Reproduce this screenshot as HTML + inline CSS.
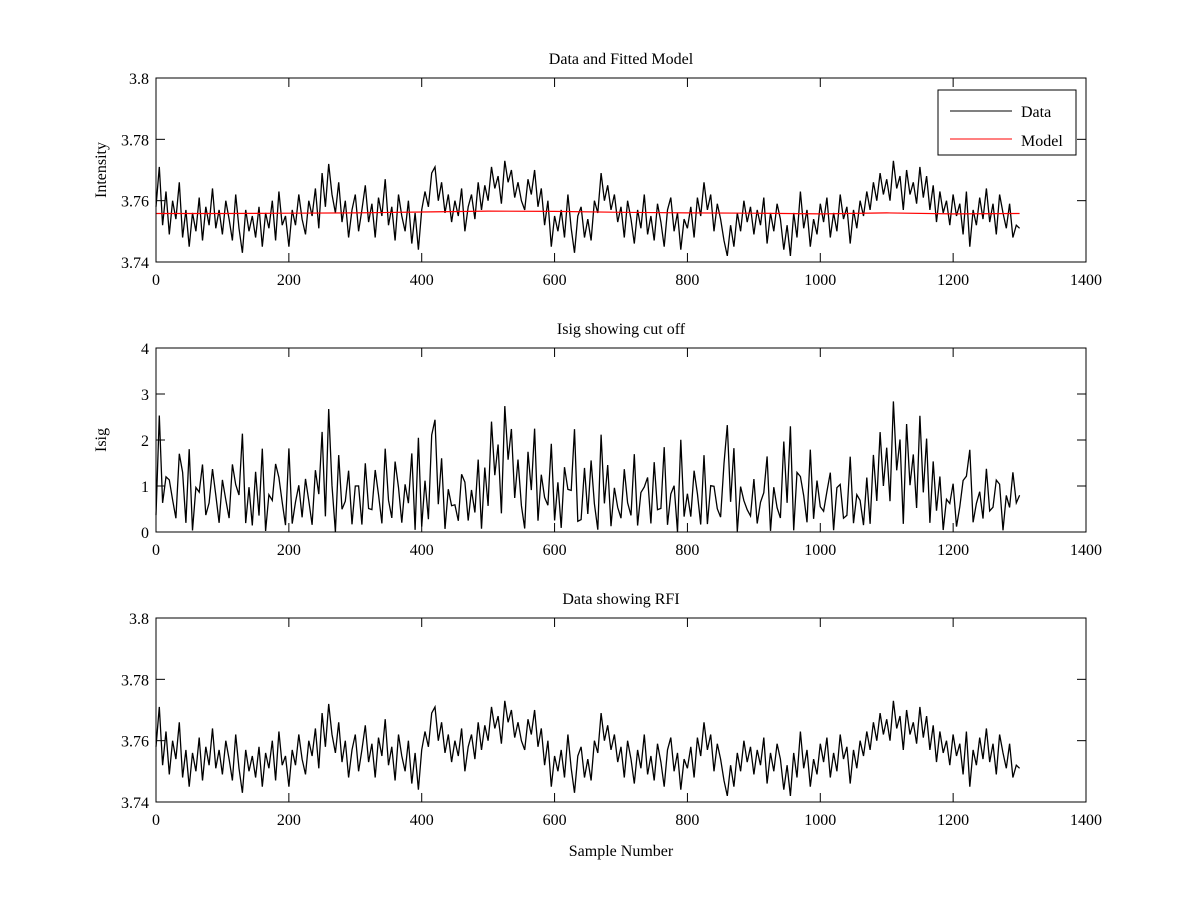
<!DOCTYPE html>
<html><head><meta charset="utf-8"><style>
body{margin:0;background:#fff}
svg text{font-family:"Liberation Serif",serif;font-size:16px;fill:#000}
</style></head><body>
<svg id="fig" width="1200" height="900"></svg>
<script>
const samples = [];
for (let i = 0; i <= 260; i++) samples.push(i * 5);
const intensity = [
3.758,3.771,3.752,3.763,3.749,3.760,3.754,3.766,3.748,3.757,
3.745,3.756,3.750,3.761,3.747,3.758,3.752,3.764,3.751,3.757,
3.749,3.760,3.754,3.747,3.762,3.751,3.743,3.757,3.750,3.755,
3.748,3.758,3.745,3.756,3.751,3.760,3.747,3.763,3.752,3.755,
3.745,3.757,3.752,3.762,3.754,3.749,3.760,3.755,3.764,3.751,
3.769,3.758,3.772,3.762,3.756,3.766,3.753,3.760,3.748,3.757,
3.762,3.750,3.757,3.765,3.753,3.759,3.748,3.761,3.755,3.767,
3.752,3.758,3.747,3.762,3.755,3.750,3.760,3.746,3.756,3.744,
3.757,3.763,3.758,3.769,3.771,3.760,3.766,3.756,3.762,3.753,
3.760,3.755,3.764,3.750,3.758,3.762,3.754,3.766,3.757,3.765,
3.760,3.771,3.764,3.768,3.759,3.773,3.766,3.770,3.761,3.766,
3.760,3.757,3.767,3.762,3.770,3.758,3.764,3.752,3.760,3.745,
3.755,3.750,3.757,3.748,3.762,3.751,3.743,3.755,3.758,3.748,
3.754,3.747,3.760,3.756,3.769,3.760,3.765,3.757,3.762,3.753,
3.758,3.748,3.760,3.754,3.746,3.757,3.751,3.762,3.749,3.755,
3.747,3.759,3.753,3.745,3.757,3.761,3.750,3.756,3.744,3.754,
3.751,3.758,3.748,3.761,3.755,3.766,3.757,3.762,3.750,3.759,
3.754,3.747,3.742,3.752,3.745,3.756,3.750,3.760,3.753,3.758,
3.749,3.757,3.752,3.761,3.746,3.756,3.750,3.759,3.754,3.744,
3.752,3.742,3.756,3.748,3.763,3.751,3.757,3.745,3.754,3.749,
3.759,3.753,3.761,3.748,3.756,3.750,3.762,3.754,3.758,3.746,
3.757,3.751,3.760,3.755,3.763,3.757,3.766,3.760,3.769,3.762,
3.767,3.760,3.773,3.764,3.768,3.757,3.770,3.762,3.766,3.759,
3.771,3.761,3.768,3.757,3.765,3.753,3.763,3.756,3.760,3.752,
3.762,3.755,3.759,3.749,3.763,3.745,3.757,3.752,3.761,3.754,
3.764,3.753,3.759,3.749,3.762,3.756,3.751,3.759,3.748,3.752,
3.751];
const modelSamples = [0,100,200,300,400,500,600,700,800,900,1000,1100,1200,1300];
const modelValues = [3.7558,3.7558,3.7559,3.7560,3.7563,3.7566,3.7565,3.7562,3.7560,3.7559,3.7557,3.7560,3.7557,3.7558];
const sigma = 0.0060;
const xTicks = [0,200,400,600,800,1000,1200,1400];
const intTicks = [3.74,3.76,3.78,3.8];
const isigTicks = [0,1,2,3,4];

const NS = "http://www.w3.org/2000/svg";
const svg = document.getElementById('fig');
function el(tag, attrs, parent) {
  const e = document.createElementNS(NS, tag);
  for (const k in attrs) e.setAttribute(k, attrs[k]);
  (parent || svg).appendChild(e);
  return e;
}
function modelAt(s) {
  let i = Math.min(Math.floor(s / 100), modelSamples.length - 2);
  const t = (s - modelSamples[i]) / (modelSamples[i + 1] - modelSamples[i]);
  return modelValues[i] + t * (modelValues[i + 1] - modelValues[i]);
}
const isig = intensity.map((v, i) => Math.abs(v - modelAt(samples[i])) / sigma);

const L = 156, R = 1086;
const xs = v => L + (v - 0) / 1400 * (R - L);
function makeAxes(name, top, bot, ymin, ymax, yTicks, fmt, title, ylabel, xlabel) {
  const g = el('g', {});
  
  
  const ys = v => bot - (v - ymin) / (ymax - ymin) * (bot - top);
  el('rect', {x: L, y: top, width: R - L, height: bot - top, fill: '#fff', stroke: 'none'}, g);
  xTicks.forEach(t => {
    const x = xs(t);
    el('line', {x1: x, y1: bot, x2: x, y2: bot - 9, stroke: '#000'}, g);
    el('line', {x1: x, y1: top, x2: x, y2: top + 9, stroke: '#000'}, g);
    const tx = el('text', {x: x, y: bot + 23, 'text-anchor': 'middle'}, g);
    tx.textContent = t;
    
    
  });
  yTicks.forEach(t => {
    const y = ys(t);
    el('line', {x1: L, y1: y, x2: L + 9, y2: y, stroke: '#000'}, g);
    el('line', {x1: R, y1: y, x2: R - 9, y2: y, stroke: '#000'}, g);
    const tx = el('text', {x: L - 7, y: y + 6, 'text-anchor': 'end'}, g);
    tx.textContent = fmt(t);
    
    
  });
  const tt = el('text', {x: (L + R) / 2, y: top - 14, 'text-anchor': 'middle'}, g);
  tt.textContent = title;
  
  
  if (ylabel) {
    const yl = el('text', {x: 0, y: 0, 'text-anchor': 'middle', transform: `translate(106,${(top + bot) / 2}) rotate(-90)`}, g);
    yl.textContent = ylabel;
    
    
  }
  if (xlabel) {
    const xl = el('text', {x: (L + R) / 2, y: bot + 54, 'text-anchor': 'middle'}, g);
    xl.textContent = xlabel;
    
    
  }
  return {g, ys, top, bot};
}
function line(ax, xsArr, ysArr, color, name, w) {
  const d = xsArr.map((s, i) => (i ? 'L' : 'M') + xs(s).toFixed(1) + ' ' + ax.ys(ysArr[i]).toFixed(1)).join('');
  const p = el('path', {d: d, fill: 'none', stroke: color, 'stroke-width': w || 1}, ax.g);
  
  
}
function frame(ax) {
  el('rect', {x: L, y: ax.top, width: R - L, height: ax.bot - ax.top, fill: 'none', stroke: '#000'}, ax.g);
}
const f2 = t => String(+t.toFixed(2));
const a1 = makeAxes('data-fitted-model-axes', 78, 262, 3.74, 3.8, intTicks, f2, 'Data and Fitted Model', 'Intensity');
line(a1, samples, intensity, '#000', 'data-series', 1.3);
line(a1, modelSamples, modelValues, '#f00', 'model-series', 1.2);
frame(a1);
const lg = el('g', {}, a1.g);


el('rect', {x: 938, y: 90, width: 138, height: 65, fill: '#fff', stroke: '#000'}, lg);
el('line', {x1: 950, y1: 111, x2: 1012, y2: 111, stroke: '#000'}, lg);
el('line', {x1: 950, y1: 139, x2: 1012, y2: 139, stroke: '#f00'}, lg);
const t1 = el('text', {x: 1021, y: 117}, lg); t1.textContent = 'Data';


const t2 = el('text', {x: 1021, y: 146}, lg); t2.textContent = 'Model';



const a2 = makeAxes('isig-axes', 348, 532, 0, 4, isigTicks, t => String(t), 'Isig showing cut off', 'Isig');
line(a2, samples, isig, '#000', 'isig-series', 1.3);
frame(a2);

const a3 = makeAxes('rfi-axes', 618, 802, 3.74, 3.8, intTicks, f2, 'Data showing RFI', null, 'Sample Number');
line(a3, samples, intensity, '#000', 'rfi-data-series', 1.3);
frame(a3);
</script>
</body></html>
